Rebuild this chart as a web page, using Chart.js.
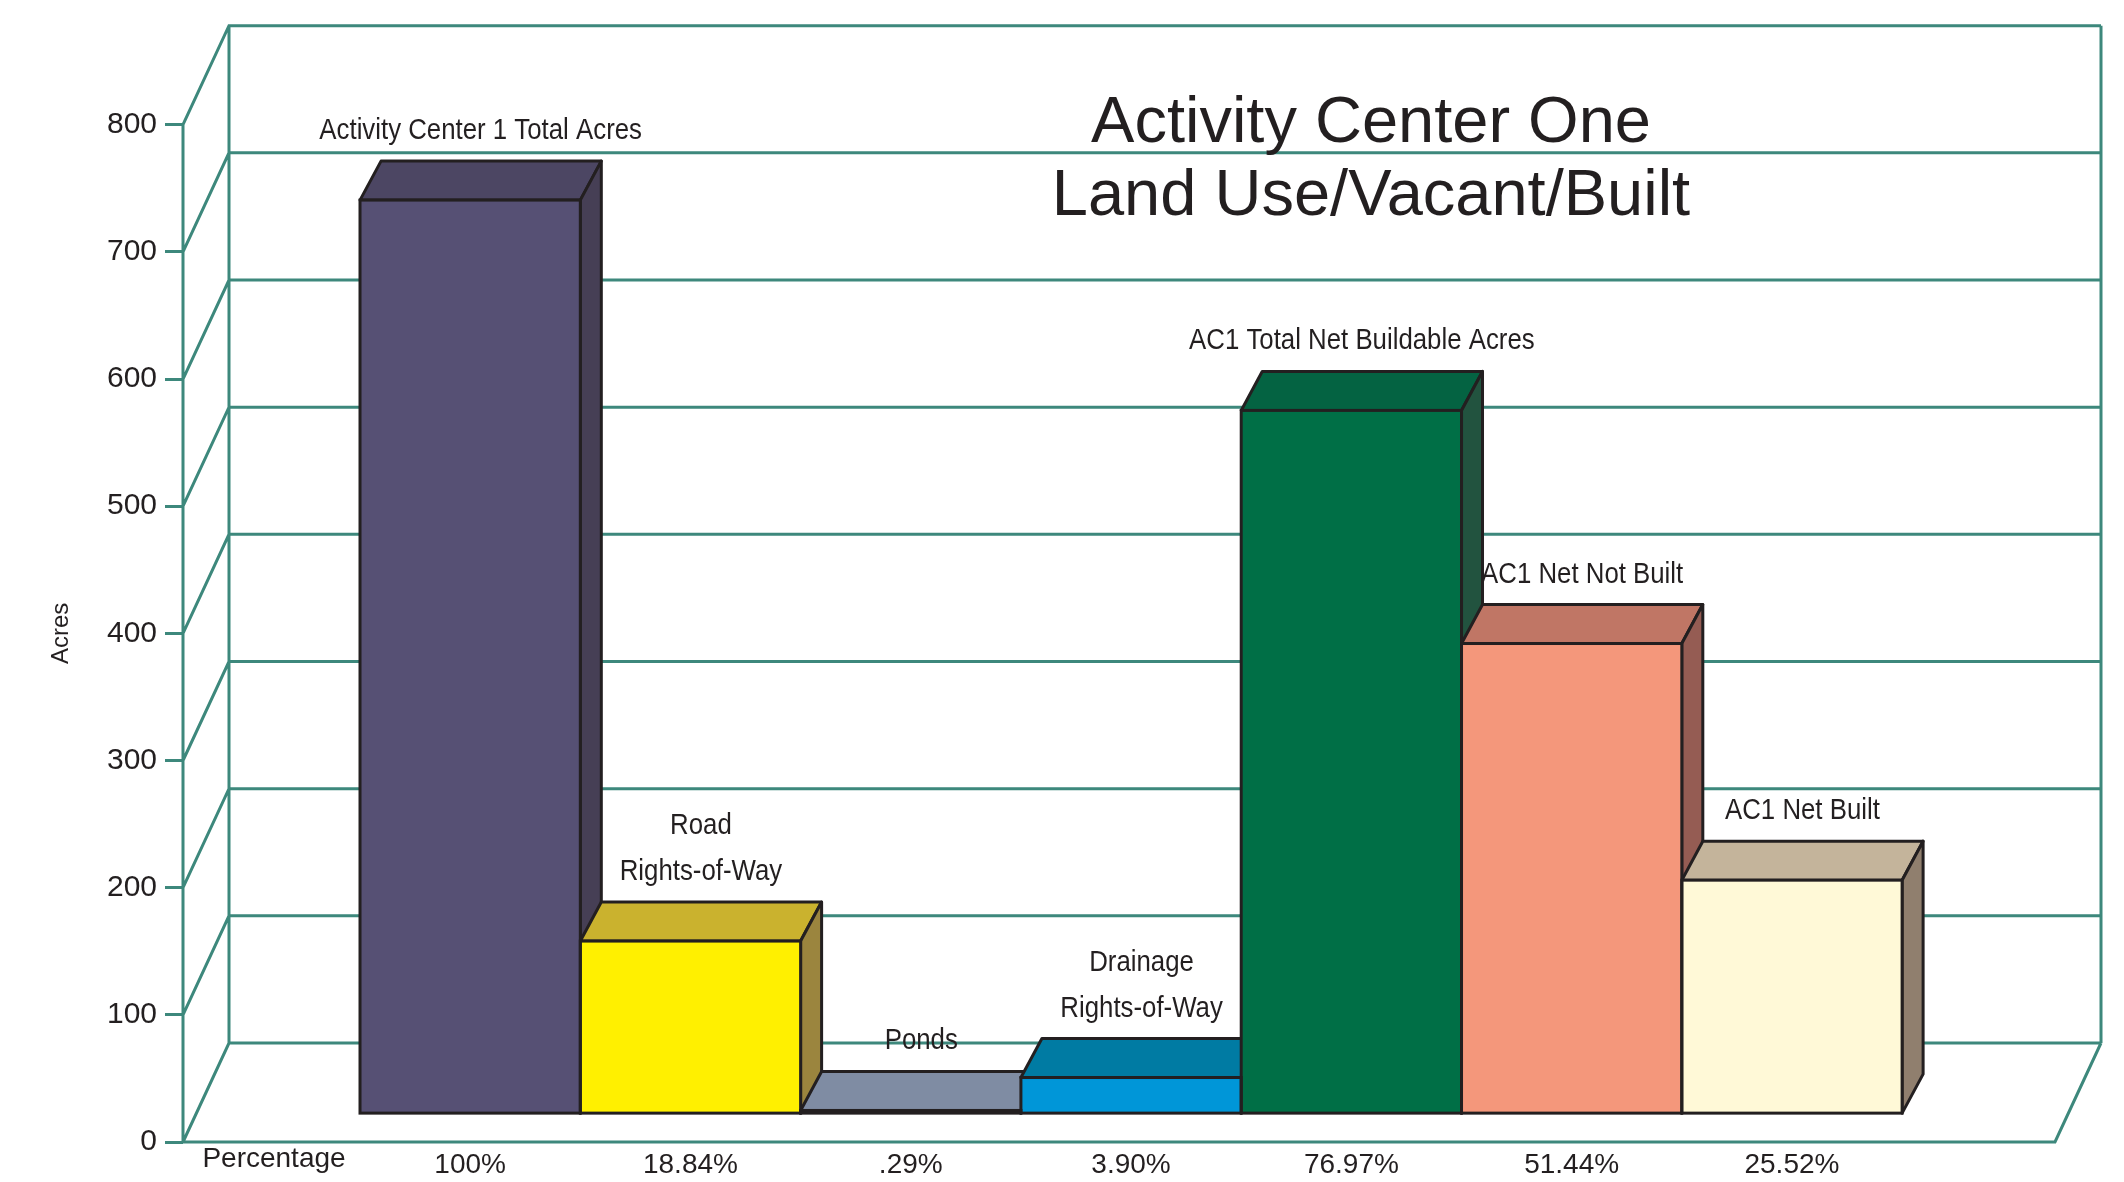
<!DOCTYPE html>
<html>
<head>
<meta charset="utf-8">
<script src="https://cdn.jsdelivr.net/npm/chart.js@4.4.0/dist/chart.umd.min.js"></script>
<style>
  body { margin: 0; background: #fff; }
  #wrap { width: 2124px; height: 1182px; position: relative; }
</style>
</head>
<body>
<div id="wrap"><canvas id="graph"></canvas></div>
<script>
// data
var categories = [
  "Activity Center 1 Total Acres",
  ["Road", "Rights-of-Way"],
  "Ponds",
  ["Drainage", "Rights-of-Way"],
  "AC1 Total Net Buildable Acres",
  "AC1 Net Not Built",
  "AC1 Net Built"
]
var acres = [718, 135.3, 2.1, 28.0, 552.6, 369.3, 183.2]
var percentages = ["100%", "18.84%", ".29%", "3.90%", "76.97%", "51.44%", "25.52%"]
var yTicks = [0, 100, 200, 300, 400, 500, 600, 700, 800]

var frontColors = ["#565074", "#fff000", "#7f8ca3", "#0096d8", "#006f46", "#f4977b", "#fff9d7"]
var topColors   = ["#4c4663", "#cab22e", "#7f8ca3", "#007ba3", "#046342", "#c07665", "#c4b49b"]
var sideColors  = ["#463f55", "#9b853e", "#5f6a7d", "#006a8a", "#22533f", "#955c53", "#907f6e"]

const teal = '#3d887c'
const ink = '#231f20'
const DEPTH = {x: 46, y: -99}      // floor / back wall
const BD = {x: 21, y: -39}         // bar depth
const Y_MAX = 877.6
const BAR_LIFT = 22.7              // bars stand back from the front edge

function poly(ctx, pts, fill) {
  ctx.beginPath()
  ctx.moveTo(pts[0][0], pts[0][1])
  for (let k = 1; k < pts.length; k++) ctx.lineTo(pts[k][0], pts[k][1])
  ctx.closePath()
  ctx.fillStyle = fill
  ctx.fill()
  ctx.stroke()
}

function narrowText(ctx, text, x, y, sx) {
  ctx.save()
  ctx.translate(x, y)
  ctx.scale(sx, 1)
  ctx.fillText(text, 0, 0)
  ctx.restore()
}

const frame3d = {
  id: 'frame3d',
  beforeDatasetsDraw(chart) {
    const ctx = chart.ctx, ys = chart.scales.y, xs = chart.scales.x
    const x0 = xs.left, x1 = xs.right
    const yTop = ys.getPixelForValue(yTicks[yTicks.length - 1])
    const yBot = ys.getPixelForValue(0)
    ctx.save()
    ctx.strokeStyle = teal
    ctx.lineWidth = 3
    ctx.beginPath()
    yTicks.forEach(v => {
      const y = ys.getPixelForValue(v)
      ctx.moveTo(x0, y)
      ctx.lineTo(x0 + DEPTH.x, y + DEPTH.y)
      ctx.lineTo(x1 + DEPTH.x, y + DEPTH.y)
    })
    ctx.moveTo(x0, yTop); ctx.lineTo(x0, yBot); ctx.lineTo(x1, yBot); ctx.lineTo(x1 + DEPTH.x, yBot + DEPTH.y)
    ctx.moveTo(x0 + DEPTH.x, yTop + DEPTH.y); ctx.lineTo(x0 + DEPTH.x, yBot + DEPTH.y)
    ctx.moveTo(x1 + DEPTH.x, yTop + DEPTH.y); ctx.lineTo(x1 + DEPTH.x, yBot + DEPTH.y)
    ctx.stroke()

    // tops and sides of the bars, fronts come from chart.js
    ctx.strokeStyle = ink
    ctx.lineWidth = 3
    ctx.lineJoin = 'round'
    chart.getDatasetMeta(0).data.forEach((bar, i) => {
      const l = bar.x - bar.width / 2, r = bar.x + bar.width / 2, t = bar.y, b = bar.base
      poly(ctx, [[l, t], [l + BD.x, t + BD.y], [r + BD.x, t + BD.y], [r, t]], topColors[i])
      poly(ctx, [[r, t], [r + BD.x, t + BD.y], [r + BD.x, b + BD.y], [r, b]], sideColors[i])
    })
    ctx.restore()
  },
  afterDatasetsDraw(chart) {
    const ctx = chart.ctx
    ctx.save()
    ctx.strokeStyle = ink
    ctx.lineWidth = 3
    chart.getDatasetMeta(0).data.forEach(bar => {
      const l = bar.x - bar.width / 2
      ctx.strokeRect(l, bar.y, bar.width, bar.base - bar.y)
    })
    ctx.restore()
  },
  afterDraw(chart) {
    const ctx = chart.ctx, ys = chart.scales.y, xs = chart.scales.x
    ctx.save()
    ctx.fillStyle = ink

    // bar names
    ctx.font = '30px "Liberation Sans"'
    ctx.textAlign = 'center'
    ctx.textBaseline = 'alphabetic'
    chart.getDatasetMeta(0).data.forEach((bar, i) => {
      const lines = Array.isArray(categories[i]) ? categories[i] : [categories[i]]
      const cx = bar.x + BD.x / 2
      let y = bar.y + BD.y - 22
      for (let k = lines.length - 1; k >= 0; k--) {
        narrowText(ctx, lines[k], cx, y, 0.86)
        y -= 46
      }
    })

    // title
    ctx.font = '65px "Liberation Sans"'
    ctx.fillText('Activity Center One', 1371, 142)
    ctx.fillText('Land Use/Vacant/Built', 1371, 215)

    // axis names
    ctx.font = '28px "Liberation Sans"'
    ctx.textBaseline = 'middle'
    ctx.fillText('Percentage', xs.left + 91, xs.top + 17)

    ctx.font = '24px "Liberation Sans"'
    ctx.translate(61, (ys.getPixelForValue(0) + ys.getPixelForValue(800)) / 2)
    ctx.rotate(-Math.PI / 2)
    ctx.fillText('Acres', 0, 0)
    ctx.restore()
  }
}

new Chart('graph', {
  type: 'bar',
  data: {
    datasets: [{
      data: acres.map((v, i) => ({x: i + 1, y: v})),
      backgroundColor: frontColors,
      borderWidth: 0,
      barPercentage: 1,
      categoryPercentage: 1,
      xAxisID: 'x',
      yAxisID: 'yb'
    }]
  },
  options: {
    responsive: true,
    maintainAspectRatio: false,
    animation: false,
    layout: {padding: {top: 22, right: 69, left: 0, bottom: 0}},
    plugins: {legend: {display: false}, tooltip: {enabled: false}, title: {display: false}},
    scales: {
      x: {
        type: 'linear',
        offset: false,
        min: -0.3035,
        max: 8.194,
        afterBuildTicks: s => { s.ticks = percentages.map((p, i) => ({value: i + 1})) },
        afterFit: s => { s.height = 40 },
        grid: {display: false, drawTicks: false},
        border: {display: false},
        ticks: {
          callback: v => percentages[v - 1],
          font: {family: 'Liberation Sans', size: 28},
          color: ink,
          padding: 6,
          autoSkip: false,
          maxRotation: 0
        }
      },
      y: {
        min: 0,
        max: Y_MAX,
        afterBuildTicks: s => { s.ticks = yTicks.map(v => ({value: v})) },
        afterFit: s => { s.width = 183 },
        grid: {drawOnChartArea: false, drawTicks: true, tickLength: 18, color: teal, lineWidth: 3},
        border: {display: false},
        ticks: {font: {family: 'Liberation Sans', size: 30}, color: ink, padding: 8}
      },
      yb: {display: false, min: -BAR_LIFT, max: Y_MAX - BAR_LIFT}
    }
  },
  plugins: [frame3d]
})
</script>
</body>
</html>
